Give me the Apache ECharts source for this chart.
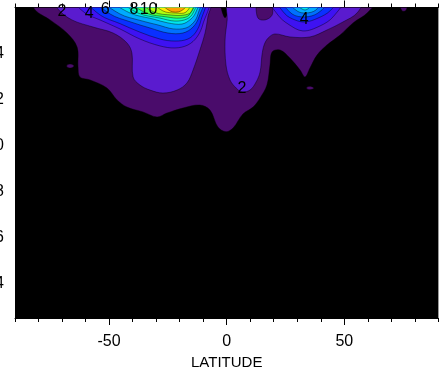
<!DOCTYPE html>
<html>
<head>
<meta charset="utf-8">
<script src="https://cdn.jsdelivr.net/npm/echarts@6/dist/echarts.min.js"></script>
<style>
html,body{margin:0;padding:0;background:#fff;}
#chart{width:440px;height:369px;}
</style>
</head>
<body>
<div id="chart"></div>
<script>
// Axis ticks
const latLabelTicks = [-50, 0, 50];
const heightLabelTicks = [4, 6, 8, 10, 12, 14];

// Filled contour regions, vertices as [latitude, height]
const level1 = [[-82,16.3],[-81.5,15.9],[-75.1,15.46],[-67.9,14.89],[-63.6,14.28],[-63.2,13.41],[-62.4,12.98],[-58.1,12.85],[-50.9,12.5],[-46.6,11.98],[-42.4,11.67],[-35.6,11.46],[-29.6,11.24],[-25.4,11.41],[-18.6,11.63],[-11.4,11.76],[-7.1,11.54],[-3.7,10.8],[-0.3,10.6],[2.7,10.76],[6.9,11.37],[11.2,11.67],[14.2,12.07],[17.1,12.63],[18.4,13.5],[19.3,14.07],[22.7,14.15],[26.9,13.8],[31.2,13.28],[33.3,12.98],[35.4,13.37],[38.4,13.93],[42.6,14.37],[48.2,14.8],[53.7,15.33],[59.7,15.76],[63,16.3]];
const level1SouthIsland = [[-67.9,13.5],[-66.2,13.54],[-64.9,13.46],[-66.2,13.37],[-67.9,13.41]];
const level1NorthIsland = [[34.1,12.54],[35.8,12.57],[37.1,12.5],[35.8,12.43],[34.1,12.46]];
const level1PolarIsland = [[73.3,16.3],[74.6,15.85],[76.3,15.89],[76.8,16.3]];
const level0Notch = [[-2.6,16.3],[1.2,16.3],[-0.7,15.55]];

const level2South = [[-72.5,16.3],[-71.7,15.93],[-65.8,15.46],[-56.8,15.15],[-48.3,14.89],[-42.4,14.46],[-40.3,14.02],[-39.8,12.98],[-36.9,12.63],[-32.6,12.41],[-27.1,12.28],[-21.1,12.41],[-16.9,12.72],[-14.3,13.28],[-11.4,14.15],[-9.2,14.89],[-8.0,15.59],[-7.1,16.3]];
const level2North = [[0.6,16.3],[0.2,15.46],[-0.7,14.59],[-0.3,13.5],[1.4,12.85],[4.0,12.5],[6.5,12.33],[9.9,12.41],[12.5,12.76],[14.2,13.2],[15.0,13.93],[15.9,14.37],[17.6,14.67],[20.5,14.85],[26.9,14.72],[35.4,14.72],[42.6,15.02],[49.4,15.37],[55.4,15.76],[57.5,16.3],[20.5,16.3],[19.3,15.67],[16.3,15.46],[13.3,15.54],[11.2,16.3]];

const level3South = [[-64.5,16.3],[-60.2,15.76],[-53.9,15.46],[-45.4,15.07],[-36.9,14.63],[-28.4,14.33],[-22.0,14.24],[-16.5,14.37],[-12.6,14.72],[-10.1,15.28],[-8.4,16.3]];
const level4South = [[-59.0,16.3],[-53.9,15.68],[-45.4,15.3],[-36.9,14.93],[-28.4,14.63],[-22.0,14.54],[-16.5,14.63],[-13.1,14.93],[-10.9,15.46],[-9.7,16.3]];
const level5South = [[-55.1,16.3],[-49.6,15.72],[-41.1,15.38],[-32.6,15.11],[-25.0,14.89],[-18.6,14.89],[-14.3,15.15],[-11.8,15.59],[-10.5,16.3]];
const level6South = [[-52.2,16.3],[-45.4,15.72],[-36.9,15.44],[-29.2,15.24],[-22.8,15.07],[-17.3,15.11],[-13.9,15.37],[-12.2,15.72],[-11.4,16.3]];
const level7South = [[-48.3,16.3],[-41.1,15.76],[-31.3,15.5],[-25.0,15.33],[-19.0,15.28],[-15.2,15.5],[-13.1,15.8],[-12.2,16.3]];
const level8South = [[-44.5,16.3],[-37.7,15.76],[-28.4,15.54],[-22.0,15.41],[-16.9,15.5],[-14.3,15.76],[-13.1,16.3]];
const level9South = [[-41.1,16.3],[-34.3,15.76],[-25.4,15.59],[-19.9,15.54],[-16.0,15.67],[-13.9,16.3]];
const level10South = [[-36.9,16.3],[-30.9,15.8],[-23.3,15.67],[-18.2,15.67],[-15.2,15.8],[-14.3,16.3]];
const level11South = [[-31.8,16.3],[-27.1,15.85],[-21.6,15.76],[-17.3,15.8],[-15.2,16.3]];
const level12South = [[-28.4,16.3],[-24.1,15.85],[-19.4,15.85],[-16.0,16.3]];

const level3North = [[18.8,16.3],[21.8,15.67],[26.1,15.28],[32.4,14.98],[39.7,15.2],[45.2,15.59],[49.0,16.3]];
const level4North = [[21.8,16.3],[24.8,15.72],[29.0,15.46],[33.3,15.37],[38.8,15.54],[43.9,15.85],[46.5,16.3]];
const level5North = [[23.9,16.3],[27.8,15.72],[33.3,15.59],[38.8,15.76],[43.1,16.3]];
const level6North = [[26.1,16.3],[29.9,15.85],[33.7,15.76],[37.9,15.89],[40.1,16.3]];
const level7North = [[28.6,16.3],[33.3,15.89],[37.1,16.3]];

// Contour labels: [latitude, height, text]
const contourLabels = [[-70.0,15.83,'2'],[-58.5,15.72,'4'],[-51.7,15.93,'6'],[-39.4,15.91,'8'],[-33.2,15.91,'10'],[6.5,12.46,'2'],[32.9,15.46,'4']];

const shades = ['#000000','#4a0c6b','#5a1bcf','#3e12f2','#0a30ff','#0070ff','#00aaff','#00e5f0','#10ffb0','#50ff40','#b0ff10','#ffee00','#ffa000'];

const bands = [
  [1, level1], [1, level1SouthIsland], [1, level1NorthIsland], [1, level1PolarIsland], [0, level0Notch],
  [2, level2South], [2, level2North],
  [3, level3South], [3, level3North],
  [4, level4South], [4, level4North],
  [5, level5South], [5, level5North],
  [6, level6South], [6, level6North],
  [7, level7South], [7, level7North],
  [8, level8South], [9, level9South], [10, level10South], [11, level11South], [12, level12South]
];

const font = '"Liberation Sans", Arial, Helvetica, sans-serif';
const black = '#000';

function axisBase(extra) {
  return Object.assign({
    type: 'value',
    splitLine: { show: false },
    axisLine: { show: true, lineStyle: { color: black, width: 1 } },
    axisTick: { show: true, inside: false, lineStyle: { color: black, width: 1 } },
    axisLabel: { show: false }
  }, extra);
}

const chart = echarts.init(document.getElementById('chart'), null, { renderer: 'canvas' });
chart.setOption({
  animation: false,
  backgroundColor: '#fff',
  grid: { left: 15, right: 1.6, top: 7.5, bottom: 51, show: true, backgroundColor: '#000', borderWidth: 0, containLabel: false, outerBoundsMode: 'none' },
  xAxis: [
    axisBase({
      min: -90, max: 90, interval: 10, position: 'bottom',
      axisTick: { show: true, length: 4, lineStyle: { color: black } },
      axisLabel: { show: true, margin: 16, color: black, fontSize: 16, fontFamily: font,
        formatter: v => latLabelTicks.includes(Math.round(v)) ? String(Math.round(v)) : '' },
      name: 'LATITUDE', nameLocation: 'middle', nameGap: 36,
      nameTextStyle: { color: black, fontSize: 15, fontFamily: font }
    }),
    axisBase({ min: -90, max: 90, position: 'bottom', axisLine: { show: false },
      axisTick: { show: true, length: 7, customValues: latLabelTicks, lineStyle: { color: black } } }),
    axisBase({ min: -90, max: 90, interval: 10, position: 'top',
      axisTick: { show: true, length: 4, lineStyle: { color: black } } }),
    axisBase({ min: -90, max: 90, position: 'top', axisLine: { show: false },
      axisTick: { show: true, length: 7, customValues: latLabelTicks, lineStyle: { color: black } } })
  ],
  yAxis: [
    axisBase({
      min: 2.5, max: 16, interval: 0.5, position: 'left',
      axisTick: { show: true, length: 5, lineStyle: { color: black } },
      axisLabel: { show: true, margin: 11, color: black, fontSize: 16, fontFamily: font,
        formatter: v => heightLabelTicks.includes(v) ? String(v) : '' }
    }),
    axisBase({ min: 2.5, max: 16, position: 'left', axisLine: { show: false },
      axisTick: { show: true, length: 9, customValues: heightLabelTicks, lineStyle: { color: black } } }),
    axisBase({ min: 2.5, max: 16, interval: 0.5, position: 'right',
      axisTick: { show: true, length: 5, lineStyle: { color: black } } })
  ],
  series: [
    {
      type: 'custom',
      coordinateSystem: 'cartesian2d',
      xAxisIndex: 0, yAxisIndex: 0,
      clip: true,
      silent: true,
      data: bands.map((b, i) => [b[1][0][0], b[1][0][1], i]),
      renderItem: function (params, api) {
        const band = bands[params.dataIndex];
        const pts = band[1].map(p => api.coord(p));
        const cs = params.coordSys;
        return {
          type: 'polygon',
          shape: { points: pts, smooth: 0.35 },
          style: { fill: shades[band[0]], stroke: 'rgba(0,0,0,0.6)', lineWidth: 0.7 },
          clipPath: { type: 'rect', shape: { x: cs.x, y: cs.y, width: cs.width, height: cs.height } }
        };
      },
      z: 1
    },
    {
      type: 'custom',
      coordinateSystem: 'cartesian2d',
      xAxisIndex: 0, yAxisIndex: 0,
      clip: false,
      silent: true,
      data: contourLabels.map(l => [l[0], l[1]]),
      renderItem: function (params, api) {
        const lab = contourLabels[params.dataIndex];
        const c = api.coord([lab[0], lab[1]]);
        return {
          type: 'text',
          x: c[0], y: c[1],
          style: { text: lab[2], fill: black, font: '16px ' + font, align: 'center', verticalAlign: 'middle' }
        };
      },
      z: 5
    }
  ]
});
</script>
</body>
</html>
